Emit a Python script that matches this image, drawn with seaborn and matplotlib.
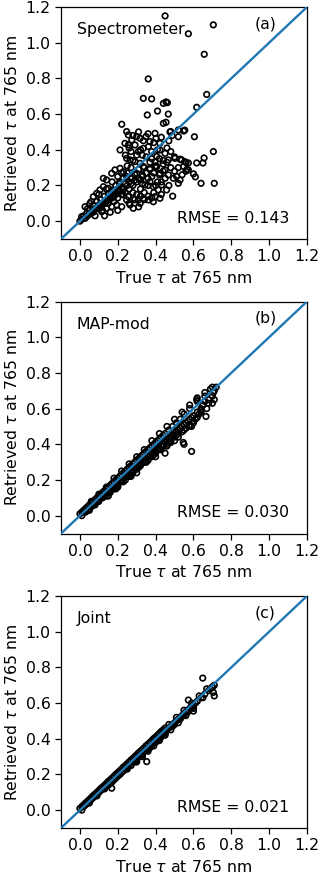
import matplotlib
matplotlib.use('Agg')
import matplotlib.pyplot as plt
import numpy as np
import pandas as pd
import seaborn as sns

# panel (a): spectrometer only
spec_true = [0.45,0.705,0.573,0.657,0.361,0.67,0.617,0.335,0.379,0.441,0.455,0.462,0.41,0.356,0.467,0.221,0.441,0.455,0.554,0.548,0.605,0.705,0.71,0.64,0.656,0.65,0.617,0.6,0.61,0.573,0.555,0.529,0.548,0.56,0.565,
             0.247,0.256,0.274,0.3,0.318,0.335,0.349,0.37,0.397,0.402,0.423,0.48,0.52,0.52,0.487,0.476,
             0.212,0.238,0.256,0.291,0.309,0.335,0.362,0.379,0.406,0.423,0.45,0.467,0.502,0.538,0.561,0.573,
             0.247,0.265,0.291,0.318,0.335,0.37,0.397,0.406,0.423,0.45,0.467,0.494,0.511,0.529,
             0.124,0.141,0.168,0.185,0.212,0.23,0.247,0.274,0.3,0.318,0.344,0.37,0.388,0.414,0.432,0.458,0.52,
             0.071,0.089,0.106,0.124,0.15,0.177,0.203,0.23,0.256,0.282,0.309,0.335,0.362,0.388,0.423,0.397,
             0.009,0.027,0.036,0.053,0.027,0.053,0.071,0.106,0.115,0.141,0.168,0.194,0.221,0.265,0.282,0.318,0.247,
             0.0,0.01,0.02,0.04,0.05,0.06,0.07,0.08,0.09,0.1,0.11,0.12,0.13,0.14,0.15,0.16,0.17,0.18,0.19,0.2,0.21,0.22,0.23,0.24,0.25,0.26,0.27,0.28,0.29,0.3,0.31,0.32,0.33,0.34,0.35,0.36,0.37,0.38,0.39,0.4,0.41,0.42,0.43,0.44,0.45,0.46,0.47,0.48,0.49,0.5,
             0.08,0.12,0.15,0.18,0.2,0.22,0.24,0.26,0.28,0.3,0.32,0.34,0.36,0.38,0.2,0.22,0.25,0.28,0.3,0.32,0.27,0.24,0.35,0.38,0.42,0.44,0.4,0.36,0.33,0.29,0.31,0.26,0.2,0.16,0.13,0.04,0.06,0.1,0.14,0.17,0.19,0.21,0.23,0.27,0.34,0.39,0.43,0.46,0.48,0.5,0.52,0.54,0.47,0.43,0.39,0.36,0.31,0.28,0.26,0.33,0.41,
             0.03,0.05,0.07,0.09,0.11,0.13,0.15,0.17,0.19,0.21,0.23,0.25,0.27,0.29,0.31,0.33,0.35,0.37,0.4,0.44]
spec_ret = [1.15,1.10,1.05,0.935,0.797,0.71,0.638,0.688,0.685,0.66,0.668,0.664,0.617,0.595,0.6,0.543,0.548,0.554,0.51,0.505,0.473,0.39,0.212,0.212,0.354,0.326,0.326,0.265,0.248,0.326,0.333,0.347,0.306,0.28,0.29,
            0.502,0.483,0.455,0.474,0.464,0.451,0.474,0.446,0.492,0.464,0.436,0.502,0.511,0.473,0.48,0.5,
            0.399,0.436,0.427,0.427,0.39,0.408,0.418,0.39,0.362,0.399,0.38,0.343,0.352,0.343,0.328,0.287,
            0.352,0.343,0.334,0.324,0.306,0.296,0.334,0.306,0.268,0.287,0.259,0.24,0.25,0.231,
            0.24,0.231,0.268,0.287,0.296,0.277,0.25,0.24,0.268,0.231,0.203,0.221,0.193,0.175,0.203,0.175,0.212,
            0.137,0.156,0.175,0.193,0.184,0.175,0.165,0.147,0.137,0.128,0.119,0.128,0.119,0.109,0.128,0.137,
            0.025,0.016,0.044,0.04,0.081,0.1,0.063,0.072,0.053,0.072,0.081,0.091,0.081,0.091,0.072,0.1,0.119,
            0.0,0.01,0.03,0.03,0.06,0.05,0.09,0.07,0.11,0.09,0.12,0.1,0.14,0.11,0.15,0.13,0.17,0.14,0.2,0.18,0.22,0.19,0.24,0.21,0.27,0.22,0.3,0.2,0.26,0.22,0.29,0.18,0.25,0.16,0.27,0.2,0.33,0.25,0.16,0.3,0.22,0.35,0.15,0.32,0.24,0.41,0.2,0.3,0.14,0.28,
            0.03,0.06,0.1,0.11,0.13,0.15,0.16,0.18,0.16,0.15,0.14,0.12,0.14,0.13,0.25,0.27,0.31,0.34,0.37,0.4,0.39,0.37,0.36,0.35,0.26,0.28,0.2,0.24,0.21,0.12,0.08,0.1,0.06,0.05,0.03,0.07,0.11,0.15,0.18,0.22,0.16,0.21,0.18,0.24,0.3,0.27,0.22,0.33,0.39,0.36,0.3,0.26,0.45,0.47,0.44,0.49,0.5,0.48,0.41,0.37,0.4,
            0.02,0.04,0.05,0.07,0.09,0.1,0.12,0.13,0.15,0.17,0.18,0.2,0.21,0.23,0.24,0.26,0.27,0.29,0.31,0.34]

# panel (b): MAP-mod
map_true = [0.0,0.01,0.01,0.02,0.02,0.03,0.03,0.04,0.04,0.05,0.05,0.06,0.06,0.07,0.07,0.08,0.08,0.09,0.09,0.1,0.1,0.11,0.11,0.12,0.12,0.13,0.13,0.14,0.14,0.15,0.15,0.16,0.16,0.17,0.17,0.18,0.18,0.19,0.19,0.2,0.2,0.21,0.21,0.22,0.22,0.23,0.23,0.24,0.24,0.25,0.25,0.26,0.26,0.27,0.27,0.28,0.28,0.29,0.29,0.3,0.3,0.31,0.31,0.32,0.32,0.33,0.33,0.34,0.34,0.35,0.35,0.36,0.36,0.37,0.37,0.38,0.38,0.39,0.39,0.4,0.4,0.41,0.41,0.42,0.42,0.43,0.43,0.44,0.44,0.45,0.45,0.46,0.47,0.47,0.48,0.49,0.49,0.5,0.51,0.51,0.52,0.53,0.53,0.54,0.55,0.56,0.57,0.58,0.59,0.6,0.62,0.64,0.65,0.66,0.68,0.7,0.71,0.72,0.7,0.66,0.62,0.58,0.55,
            0.705,0.71,0.70,0.617,0.65,0.64,0.666,0.59,0.546,0.55,0.58,0.5,0.46,0.45,0.4,0.35,0.3,0.27,0.2,0.15,0.48,0.52,0.6,0.62,
            0.05,0.08,0.1,0.12,0.14,0.16,0.18,0.2,0.22,0.24,0.26,0.28,0.3,0.32,0.34,0.36,0.38,0.4,0.42,0.44,0.46,0.48,0.5,0.52,0.54,0.56,0.58,0.6,0.63,0.67,
            0.06,0.1,0.14,0.18,0.22,0.26,0.3,0.34,0.38,0.42,0.46,0.5,0.54,0.58,0.62,0.66,0.69,
            0.19,0.23,0.27,0.31,0.35,0.39,0.43,0.47,0.51,0.55,0.59,0.61,0.64,0.68]
map_ret = [0.01,0.0,0.02,0.02,0.03,0.02,0.04,0.03,0.05,0.04,0.06,0.05,0.07,0.06,0.08,0.07,0.09,0.08,0.1,0.09,0.11,0.1,0.12,0.11,0.13,0.11,0.14,0.13,0.15,0.13,0.16,0.14,0.17,0.15,0.18,0.16,0.19,0.17,0.2,0.18,0.21,0.19,0.22,0.2,0.23,0.21,0.24,0.22,0.25,0.22,0.26,0.24,0.27,0.25,0.28,0.25,0.29,0.27,0.3,0.27,0.31,0.28,0.32,0.29,0.33,0.3,0.34,0.31,0.35,0.32,0.36,0.33,0.37,0.33,0.38,0.35,0.39,0.36,0.4,0.36,0.41,0.37,0.42,0.38,0.43,0.39,0.44,0.4,0.45,0.41,0.46,0.42,0.43,0.48,0.44,0.45,0.5,0.46,0.47,0.52,0.48,0.49,0.54,0.5,0.51,0.52,0.53,0.54,0.55,0.56,0.58,0.6,0.62,0.64,0.65,0.67,0.7,0.72,0.72,0.67,0.64,0.6,0.57,
           0.69,0.65,0.63,0.65,0.62,0.59,0.556,0.36,0.41,0.4,0.5,0.42,0.39,0.35,0.33,0.3,0.24,0.22,0.16,0.11,0.41,0.44,0.53,0.55,
           0.03,0.06,0.08,0.1,0.11,0.13,0.15,0.17,0.19,0.2,0.22,0.24,0.26,0.28,0.3,0.31,0.33,0.35,0.37,0.39,0.4,0.42,0.44,0.46,0.47,0.49,0.51,0.52,0.57,0.6,
           0.08,0.12,0.16,0.21,0.25,0.29,0.33,0.37,0.42,0.46,0.5,0.54,0.58,0.62,0.66,0.69,0.71,
           0.15,0.19,0.23,0.27,0.3,0.34,0.37,0.41,0.45,0.48,0.5,0.54,0.58,0.63]

# panel (c): joint retrieval
joint_true = [0.0,0.01,0.01,0.02,0.02,0.03,0.03,0.04,0.04,0.05,0.05,0.06,0.06,0.07,0.07,0.08,0.08,0.09,0.09,0.1,0.1,0.11,0.11,0.12,0.12,0.13,0.13,0.14,0.14,0.15,0.15,0.16,0.16,0.17,0.17,0.18,0.18,0.19,0.19,0.2,0.2,0.21,0.21,0.22,0.22,0.23,0.23,0.24,0.24,0.25,0.25,0.26,0.26,0.27,0.27,0.28,0.28,0.29,0.29,0.3,0.3,0.31,0.31,0.32,0.32,0.33,0.33,0.34,0.34,0.35,0.35,0.36,0.36,0.37,0.37,0.38,0.38,0.39,0.39,0.4,0.4,0.41,0.41,0.42,0.42,0.43,0.43,0.44,0.44,0.45,0.45,0.46,0.47,0.48,0.49,0.5,0.51,0.52,0.53,0.54,0.55,0.56,0.57,0.58,0.59,0.6,0.62,0.64,0.66,0.68,0.7,0.71,
              0.649,0.70,0.705,0.71,0.6,0.6,0.573,0.353,0.168,0.42,0.4,0.36,0.3,0.25,0.45,0.5,0.55,
              0.05,0.09,0.13,0.17,0.21,0.25,0.29,0.33,0.37,0.41,0.45,0.49,0.53,0.57,0.61,0.65,0.69,
              0.07,0.11,0.15,0.19,0.23,0.27,0.31,0.35,0.39,0.43,0.47,0.51,0.55,0.59,0.63,0.67,
              0.3,0.33,0.36,0.39,0.42,0.45,0.48,0.52,0.56,0.6]
joint_ret = [0.01,0.0,0.02,0.02,0.03,0.03,0.04,0.04,0.05,0.05,0.06,0.06,0.07,0.07,0.08,0.08,0.09,0.09,0.1,0.1,0.11,0.11,0.12,0.12,0.13,0.12,0.14,0.14,0.15,0.14,0.16,0.15,0.17,0.16,0.18,0.17,0.19,0.18,0.2,0.19,0.21,0.2,0.22,0.21,0.23,0.22,0.24,0.23,0.25,0.24,0.26,0.25,0.27,0.25,0.28,0.27,0.29,0.28,0.3,0.28,0.31,0.3,0.32,0.31,0.33,0.31,0.34,0.33,0.35,0.34,0.36,0.34,0.37,0.36,0.38,0.36,0.39,0.38,0.4,0.38,0.41,0.4,0.42,0.41,0.43,0.41,0.44,0.43,0.45,0.44,0.46,0.45,0.46,0.47,0.48,0.49,0.5,0.51,0.52,0.53,0.54,0.55,0.56,0.57,0.58,0.59,0.61,0.63,0.65,0.67,0.69,0.7,
             0.74,0.69,0.66,0.64,0.575,0.555,0.617,0.272,0.123,0.4,0.385,0.345,0.285,0.24,0.43,0.48,0.53,
             0.04,0.08,0.12,0.16,0.2,0.23,0.27,0.31,0.35,0.39,0.43,0.47,0.51,0.55,0.6,0.63,0.68,
             0.08,0.12,0.16,0.2,0.24,0.28,0.32,0.36,0.4,0.44,0.48,0.52,0.56,0.6,0.64,0.68,
             0.27,0.3,0.33,0.36,0.39,0.42,0.45,0.49,0.53,0.57]

names = ['Spectrometer', 'MAP-mod', 'Joint']
tags = ['(a)', '(b)', '(c)']
rmse = [0.143, 0.030, 0.021]
panels = [(spec_true, spec_ret), (map_true, map_ret), (joint_true, joint_ret)]

plt.rcParams.update({'font.size': 11.3, 'axes.linewidth': 0.9,
                     'xtick.major.size': 4, 'ytick.major.size': 4,
                     'xtick.major.width': 0.9, 'ytick.major.width': 0.9})

W, H = 320, 877
fig = plt.figure(figsize=(W/100, H/100), dpi=100)
tops = [7, 301.5, 596]
lims = [-0.1, 1.2]

for k in range(3):
    ax = fig.add_axes([61/W, 1-(tops[k]+232)/H, 246/W, 232/H])
    df = pd.DataFrame({'true': panels[k][0], 'ret': panels[k][1]})
    sns.scatterplot(data=df, x='true', y='ret', ax=ax, marker='o', s=16,
                    fc='none', ec='black', linewidth=1.2, zorder=2)
    ax.plot(lims, lims, color='C0', lw=1.7, zorder=3)
    ax.set_xlim(lims)
    ax.set_ylim(lims)
    ax.set_xticks(np.arange(0, 1.21, 0.2))
    ax.set_yticks(np.arange(0, 1.21, 0.2))
    ax.set_xlabel(r'True $\tau$ at 765 nm')
    ax.set_ylabel(r'Retrieved $\tau$ at 765 nm')
    ax.text(-0.017, 1.047, names[k])
    ax.text(0.925, 1.08, tags[k])
    ax.text(0.515, -0.008, 'RMSE = %.3f' % rmse[k])

fig.savefig('out.png', dpi=100)
